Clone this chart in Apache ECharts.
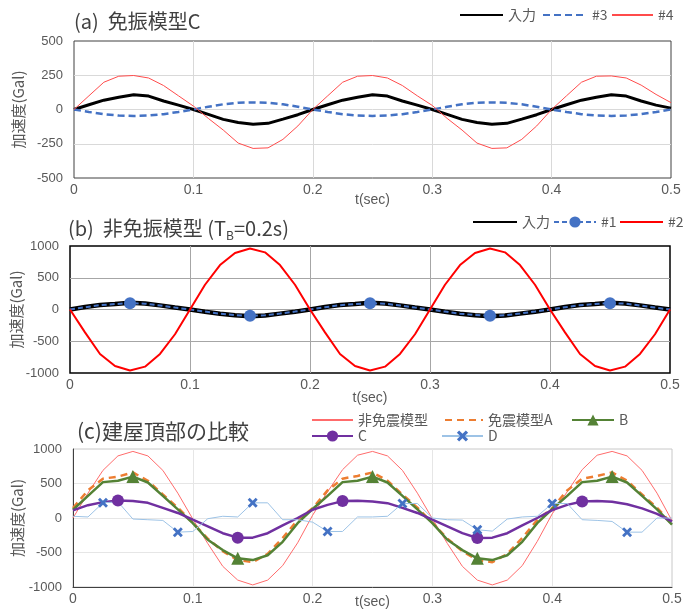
<!DOCTYPE html>
<html><head><meta charset="utf-8">
<script src="https://cdn.jsdelivr.net/npm/echarts@6/dist/echarts.min.js"></script>
<style>html,body{margin:0;padding:0;background:#fff}#c{width:684px;height:613px}</style>
</head><body><div id="c"></div>
<script>
// time axis (sec)
const times = [0,0.0125,0.025,0.0375,0.05,0.0625,0.075,0.0875,0.1,0.1125,0.125,0.1375,0.15,0.1625,0.175,0.1875,0.2,0.2125,0.225,0.2375,0.25,0.2625,0.275,0.2875,0.3,0.3125,0.325,0.3375,0.35,0.3625,0.375,0.3875,0.4,0.4125,0.425,0.4375,0.45,0.4625,0.475,0.4875,0.5];
const xTicks = [0,0.1,0.2,0.3,0.4,0.5];

// (a) 免振模型C
const aInput = [0,35,68,90,108,98,62,32,0,-36,-72,-95,-107,-101,-70,-38,0,35,68,90,108,98,62,32,0,-36,-72,-95,-107,-101,-70,-38,0,35,68,90,108,98,62,32,10];
const a3 = [0,-18,-34,-44,-47,-44,-34,-18,0,20,38,49,52,49,38,20,0,-18,-34,-44,-47,-44,-34,-18,0,20,38,49,52,49,38,20,0,-18,-34,-44,-47,-44,-34,-18,0];
const a4 = [0,100,199,243,248,230,175,100,25,-65,-150,-245,-284,-280,-218,-120,0,100,199,243,248,230,175,100,30,-65,-150,-245,-284,-280,-218,-120,0,100,199,243,245,230,178,110,50];

// (b) 非免振模型
const bInput = [0,38,70,88,108,95,65,32,0,-35,-68,-90,-105,-95,-65,-35,0,38,70,88,108,95,65,32,0,-35,-68,-90,-105,-95,-65,-35,0,38,70,88,108,95,65,32,0];
const b1 = [0,35,68,86,100,92,63,30,0,-33,-66,-88,-100,-92,-63,-33,0,35,68,86,100,92,63,30,0,-33,-66,-88,-100,-92,-63,-33,0,35,68,86,100,92,63,30,0];
const b2 = [0,-360,-700,-890,-960,-900,-700,-390,0,390,700,890,960,900,700,390,0,-360,-700,-890,-960,-900,-700,-390,0,390,700,890,960,900,700,390,0,-360,-700,-890,-960,-900,-700,-390,0];
const b1Marks = [4,12,20,28,36];

// (c) 建屋頂部の比較
const cRed = [0,360,690,900,965,900,690,360,-15,-370,-700,-900,-970,-900,-690,-360,40,380,700,910,965,900,690,360,-10,-370,-700,-900,-970,-900,-690,-340,60,380,700,910,965,900,690,360,-40];
const cA = [145,400,570,600,660,540,340,150,-70,-300,-480,-610,-640,-520,-290,-30,140,400,570,610,660,540,340,150,-70,-300,-480,-610,-640,-520,-290,-30,140,400,570,610,660,540,340,150,-90];
const cB = [120,320,520,540,600,515,320,125,-75,-315,-465,-585,-610,-540,-345,-75,130,320,520,540,600,515,320,125,-75,-315,-465,-585,-610,-540,-345,-75,130,320,520,540,600,515,320,125,-95];
const cC = [110,186,230,255,245,220,147,73,-25,-122,-220,-285,-285,-220,-108,0,120,190,245,250,240,215,147,73,-25,-122,-220,-290,-285,-220,-108,0,115,190,240,245,235,200,140,60,-50];
const cD = [25,15,220,235,-15,-25,-35,-205,-196,-10,25,15,220,220,-25,-25,-60,-196,-195,15,15,25,210,210,0,-25,-30,-170,-190,-15,15,25,210,210,-25,-35,-50,-205,-205,0,0];
const cBMarks = [4,11,20,27,36];
const cCMarks = [3,11,18,27,34];
const cDMarks = [2,7,12,17,22,27,32,37];

const FONT = "'Noto Sans CJK JP', sans-serif";
const NUMFONT = "'Liberation Sans', sans-serif";
const GREY = '#595959';
const XMARK = 'path://M2,0 L5,3 L8,0 L10,2 L7,5 L10,8 L8,10 L5,7 L2,10 L0,8 L3,5 L0,2 Z';

function pts(arr, marks){
  return times.map((t,i)=>{
    const o = {value:[t, arr[i]]};
    if (marks && marks.indexOf(i) < 0) o.symbol = 'none';
    return o;
  });
}

const gridCfg = [
  {left:74, right:13, top:41, height:137, show:true, borderColor:'#404040', borderWidth:1, containLabel:false, outerBoundsMode:'none'},
  {left:70, right:14, top:246, height:127, show:true, borderColor:'#000000', borderWidth:1.5, containLabel:false, outerBoundsMode:'none'},
  {left:73, right:12, top:449, height:138, show:true, borderColor:'#c8c8c8', borderWidth:1, containLabel:false, outerBoundsMode:'none'}
];
const splitColors = ['#d9d9d9','#a6a6a6','#e6e6e6'];
const nameGaps = [15,18,8];
const yRanges = [[-500,500,250],[-1000,1000,500],[-1000,1000,500]];

const xAxes = [0,1,2].map(i=>({
  type:'value', gridIndex:i, min:xTicks[0], max:xTicks[xTicks.length-1], interval:0.1,
  name:'t(sec)', nameLocation:'middle', nameGap:nameGaps[i], nameMoveOverlap:false,
  nameTextStyle:{color:GREY, fontSize:14, fontFamily:NUMFONT},
  axisLine:{show:i===2, onZero:false, lineStyle:{color:'#404040', width:1}},
  axisTick:{show:false},
  splitLine:{show:true, showMinLine:false, showMaxLine:false, lineStyle:{color:splitColors[i], width:1}},
  axisLabel:{color:GREY, fontSize:14, margin:5, fontFamily:NUMFONT, formatter:v=>String(v)}
}));
const yAxes = [0,1,2].map(i=>({
  type:'value', gridIndex:i, min:yRanges[i][0], max:yRanges[i][1], interval:yRanges[i][2],
  name:'加速度(Gal)', nameLocation:'middle', nameGap:[48,46,48][i], nameMoveOverlap:false,
  nameTextStyle:{color:GREY, fontSize:15, fontFamily:FONT},
  axisLine:{show:i===2, onZero:false, lineStyle:{color:'#404040', width:1}},
  axisTick:{show:false},
  splitLine:{show:true, showMinLine:false, showMaxLine:false, lineStyle:{color:splitColors[i], width:1}},
  axisLabel:{color:GREY, fontSize:13, margin:11, fontFamily:NUMFONT, formatter:v=>String(v)}
}));

function leg(name, left, top, w, mark){
  const l = {data:[name], left:left, top:top, padding:0, itemWidth:w||43, itemHeight:14,
    textStyle:{color:GREY, fontSize:14, fontFamily:FONT}, selectedMode:false};
  if (!mark) l.itemStyle = {opacity:0};
  return l;
}

const option = {
  animation:false,
  textStyle:{fontFamily:FONT},
  title:[
    {text:'(a)  免振模型C', left:74, top:11, padding:0, textStyle:{color:'#404040', fontSize:20, fontWeight:'normal', fontFamily:FONT}},
    {text:'(b)  非免振模型 (T{sub|B}=0.2s)', left:68, top:215, padding:0,
      textStyle:{color:'#404040', fontSize:20, fontWeight:'normal', fontFamily:FONT,
        rich:{sub:{fontSize:12, color:'#404040', fontFamily:FONT, verticalAlign:'bottom', padding:[14,0,0,0]}}}},
    {text:'(c)建屋頂部の比較', left:77, top:421, padding:0, textStyle:{color:'#404040', fontSize:21, fontWeight:'normal', fontFamily:FONT}}
  ],
  legend:[
    leg('入力',459,8), leg('#3',542,8,44), leg('#4',611,8,41),
    leg('入力 ',472,215,44), leg('#1',553,215,42,true), leg('#2',619,215,43),
    leg('非免震模型',311,413,41), leg('免震模型A',444,413,38), leg('B',571,413,42,true),
    leg('C',311,429,41,true), leg('D',441,429,41,true)
  ],
  grid:gridCfg,
  xAxis:xAxes,
  yAxis:yAxes,
  series:[
    {name:'入力', type:'line', xAxisIndex:0, yAxisIndex:0, data:pts(aInput), symbol:'none',
      lineStyle:{color:'#000', width:3}, itemStyle:{color:'#000'}},
    {name:'#3', type:'line', xAxisIndex:0, yAxisIndex:0, data:pts(a3), symbol:'none',
      lineStyle:{color:'#4472C4', width:2.5, type:[7,4]}, itemStyle:{color:'#4472C4'}},
    {name:'#4', type:'line', xAxisIndex:0, yAxisIndex:0, data:pts(a4), symbol:'none',
      lineStyle:{color:'#FF4B4B', width:1}, itemStyle:{color:'#FF4B4B'}},

    {name:'入力 ', type:'line', xAxisIndex:1, yAxisIndex:1, data:pts(bInput), symbol:'none',
      lineStyle:{color:'#000', width:4.5}, itemStyle:{color:'#000'}},
    {name:'#1', type:'line', xAxisIndex:1, yAxisIndex:1, data:pts(b1, b1Marks), symbol:'circle', symbolSize:12, showSymbol:true,
      lineStyle:{color:'#4472C4', width:2, type:[5,3]}, itemStyle:{color:'#4472C4'}},
    {name:'#2', type:'line', xAxisIndex:1, yAxisIndex:1, data:pts(b2), symbol:'none',
      lineStyle:{color:'#FF0000', width:2}, itemStyle:{color:'#FF0000'}},

    {name:'非免震模型', type:'line', xAxisIndex:2, yAxisIndex:2, data:pts(cRed), symbol:'none',
      lineStyle:{color:'#FF6B6B', width:1}, itemStyle:{color:'#FF6B6B'}},
    {name:'免震模型A', type:'line', xAxisIndex:2, yAxisIndex:2, data:pts(cA), symbol:'none',
      lineStyle:{color:'#ED7D31', width:2.5, type:[7,5]}, itemStyle:{color:'#ED7D31'}},
    {name:'B', type:'line', xAxisIndex:2, yAxisIndex:2, data:pts(cB, cBMarks), symbol:'triangle', symbolSize:13, showSymbol:true,
      lineStyle:{color:'#548235', width:2.5}, itemStyle:{color:'#548235'}},
    {name:'C', type:'line', xAxisIndex:2, yAxisIndex:2, data:pts(cC, cCMarks), symbol:'circle', symbolSize:12, showSymbol:true,
      lineStyle:{color:'#7030A0', width:2.5}, itemStyle:{color:'#7030A0'}},
    {name:'D', type:'line', xAxisIndex:2, yAxisIndex:2, data:pts(cD, cDMarks), symbol:XMARK, symbolSize:10, showSymbol:true,
      lineStyle:{color:'#9DC3E6', width:1}, itemStyle:{color:'#4472C4'}}
  ]
};
const chart = echarts.init(document.getElementById('c'));
chart.setOption(option);
</script></body></html>
